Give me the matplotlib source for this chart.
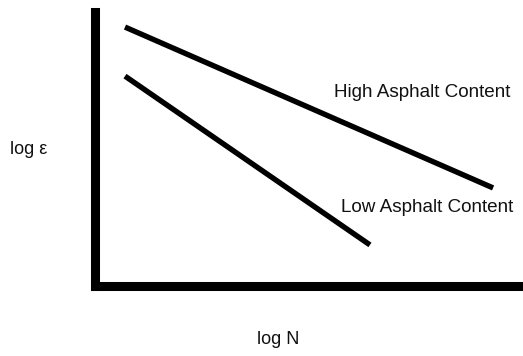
import matplotlib.pyplot as plt

plt.rcParams['font.family'] = ['Liberation Sans', 'DejaVu Sans']

# schematic fatigue lines (arbitrary log units)
high_x = [0.69, 9.30]
high_y = [9.45, 3.58]
low_x = [0.69, 6.42]
low_y = [7.66, 1.50]

labels = ["High Asphalt Content", "Low Asphalt Content"]
label_pos = [(7.65, 7.08), (7.75, 2.88)]

fig = plt.figure(figsize=(5.23, 3.56), dpi=100)
ax = fig.add_axes([0.1826, 0.1966, 0.8174, 0.7697])

ax.plot(high_x, high_y, color='black', lw=3.9, solid_capstyle='butt')
ax.plot(low_x, low_y, color='black', lw=3.9, solid_capstyle='butt')

for txt, (x, y) in zip(labels, label_pos):
    ax.text(x, y, txt, ha='center', va='center', fontsize=13.6, color='#111111')

ax.set_xlim(0, 10)
ax.set_ylim(0, 10)
ax.set_xticks([])
ax.set_yticks([])
ax.spines['top'].set_visible(False)
ax.spines['right'].set_visible(False)
ax.spines['left'].set_linewidth(6.5)
ax.spines['bottom'].set_linewidth(6.5)

fig.text(0.055, 0.579, "log ε", ha='center', va='center', fontsize=13, color='#111111')
fig.text(0.5325, 0.045, "log N", ha='center', va='center', fontsize=13, color='#111111')

fig.savefig('out.png', dpi=100)
